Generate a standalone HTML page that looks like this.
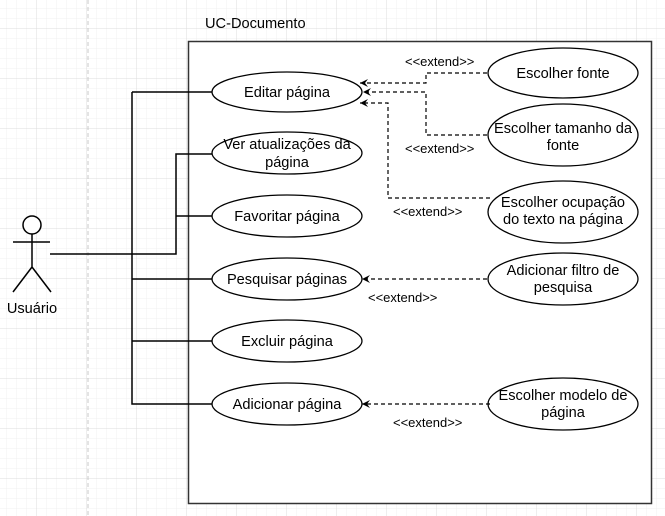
<!DOCTYPE html><html><head><style>body{margin:0}svg{display:block}text{font-family:"Liberation Sans",sans-serif;font-size:14.6px}</style></head><body>
<svg width="665" height="516" viewBox="0 0 665 516">
<defs>
<pattern id="g1" width="10" height="10" patternUnits="userSpaceOnUse" x="7" y="9"><path d="M10 0V10M0 10H10" stroke="#f0f0f0" fill="none"/></pattern>
<pattern id="g2" width="50" height="50" patternUnits="userSpaceOnUse" x="-13" y="-21"><path d="M50 0V50M0 50H50" stroke="#dcdcdc" fill="none"/></pattern>
<marker id="a" markerWidth="10" markerHeight="10" refX="9" refY="5" orient="auto" markerUnits="userSpaceOnUse"><path d="M1 1L9 5L1 9L4 5Z" fill="#000"/></marker>
</defs>
<rect width="665" height="516" fill="#fff"/>
<rect width="665" height="516" fill="url(#g1)"/>
<rect width="665" height="516" fill="url(#g2)"/>
<line x1="88" y1="0" x2="88" y2="516" stroke="#c8c8c8" stroke-dasharray="4 3"/>
<rect x="188.5" y="41.5" width="463" height="462" fill="#fff" stroke="#333" stroke-width="1.5"/>
<text x="205" y="28" fill="#000">UC-Documento</text>
<g fill="none" stroke="#000" stroke-width="1.5">
<circle cx="32" cy="225" r="9" fill="#fff"/>
<path d="M32 234V267M13 242H50M32 267L13 292M32 267L51 292"/>
<path d="M50 254H176V154H212M176 216H212M132 92H212M132 92V404H212M132 279H212M132 341H212"/>
</g>
<g fill="#fff" stroke="#000" stroke-width="1.3">
<ellipse cx="287" cy="92" rx="75" ry="20"/>
<ellipse cx="287" cy="153" rx="75" ry="21"/>
<ellipse cx="287" cy="216" rx="75" ry="21"/>
<ellipse cx="287" cy="279" rx="75" ry="21"/>
<ellipse cx="287" cy="341" rx="75" ry="21"/>
<ellipse cx="287" cy="404" rx="75" ry="21"/>
<ellipse cx="563" cy="73" rx="75" ry="25"/>
<ellipse cx="563" cy="135" rx="75" ry="31"/>
<ellipse cx="563" cy="212" rx="75" ry="31"/>
<ellipse cx="563" cy="279" rx="75" ry="26"/>
<ellipse cx="563" cy="404" rx="75" ry="26"/>
</g>
<g fill="none" stroke="#000" stroke-width="1.2" stroke-dasharray="4 3">
<path d="M487 73H426V83H360" marker-end="url(#a)"/>
<path d="M487 135H426V92H363" marker-end="url(#a)"/>
<path d="M490 198H388V103H360" marker-end="url(#a)"/>
<path d="M487 279H362" marker-end="url(#a)"/>
<path d="M490 404H362" marker-end="url(#a)"/>
</g>
<g text-anchor="middle" fill="#000">
<text x="287" y="97">Editar página</text>
<text x="287" y="149">Ver atualizações da</text>
<text x="287" y="167">página</text>
<text x="287" y="221">Favoritar página</text>
<text x="287" y="284">Pesquisar páginas</text>
<text x="287" y="346">Excluir página</text>
<text x="287" y="409">Adicionar página</text>
<text x="563" y="78">Escolher fonte</text>
<text x="563" y="133">Escolher tamanho da</text>
<text x="563" y="150">fonte</text>
<text x="563" y="207">Escolher ocupação</text>
<text x="563" y="224">do texto na página</text>
<text x="563" y="275">Adicionar filtro de</text>
<text x="563" y="292">pesquisa</text>
<text x="563" y="400">Escolher modelo de</text>
<text x="563" y="417">página</text>
<text x="32" y="313">Usuário</text>
</g>
<g fill="#000" style="font-size:13px">
<text x="405" y="66" style="font-size:13px">&lt;&lt;extend&gt;&gt;</text>
<text x="405" y="153" style="font-size:13px">&lt;&lt;extend&gt;&gt;</text>
<text x="393" y="216" style="font-size:13px">&lt;&lt;extend&gt;&gt;</text>
<text x="368" y="302" style="font-size:13px">&lt;&lt;extend&gt;&gt;</text>
<text x="393" y="427" style="font-size:13px">&lt;&lt;extend&gt;&gt;</text>
</g>
</svg></body></html>
